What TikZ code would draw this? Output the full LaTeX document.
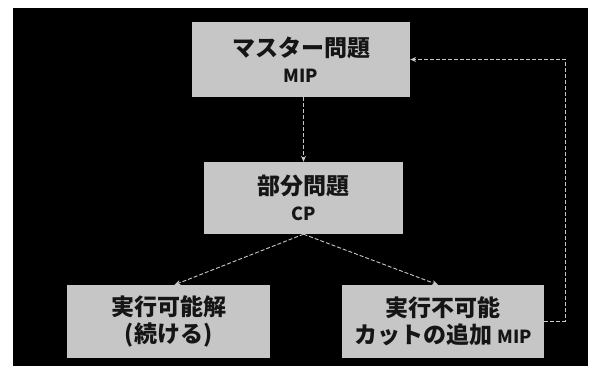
\documentclass[tikz,border=0pt]{standalone}
\usepackage{fontspec}
\setmainfont{Noto Sans CJK JP}
\usetikzlibrary{arrows.meta}
\definecolor{boxgray}{HTML}{C6C6C6}
\definecolor{linegray}{HTML}{C8C8C8}
\definecolor{txt}{HTML}{151515}
\begin{document}
\begin{tikzpicture}[x=1pt,y=-1pt,
  box/.style={fill=boxgray, text=txt, align=center, inner sep=0pt,
    font=\fontsize{23}{27}\selectfont\bfseries},
  lat/.style={},
  conn/.style={draw=linegray, line width=0.9pt, dash pattern=on 4pt off 2pt,
    -{Stealth[length=6pt,width=5pt]}}]
\useasboundingbox (0,0) rectangle (601,374);
\fill[white] (0,0) rectangle (601,374);
\fill[black] (13,8) rectangle (588,366);
\newcommand{\lt}[1]{{\fontsize{18}{20}\selectfont #1}}
\node[box, minimum width=218pt, minimum height=75pt] (top) at (301,59.5)
  {マスター問題\\[-1pt]\lt{MIP}};
\node[box, minimum width=199pt, minimum height=72pt] (mid) at (303.5,198)
  {部分問題\\[-1pt]\lt{CP}};
\node[box, minimum width=203pt, minimum height=73pt] (left) at (168.5,321.5)
  {実行可能解\\(続ける)};
\node[box, minimum width=202pt, minimum height=73pt] (right) at (443,321.5)
  {実行不可能\\カットの追加 \lt{MIP}};
\coordinate (fb) at (565,0);
\draw[conn] (top.south -| mid.north) -- (mid.north);
\draw[conn] (mid.south) -- ([xshift=6pt]left.north);
\draw[conn] (mid.south) -- ([xshift=-5pt]right.north);
\draw[conn] (right.east) -- (right.east -| fb) -- (top.east -| fb) -- (top.east);
\end{tikzpicture}
\end{document}
